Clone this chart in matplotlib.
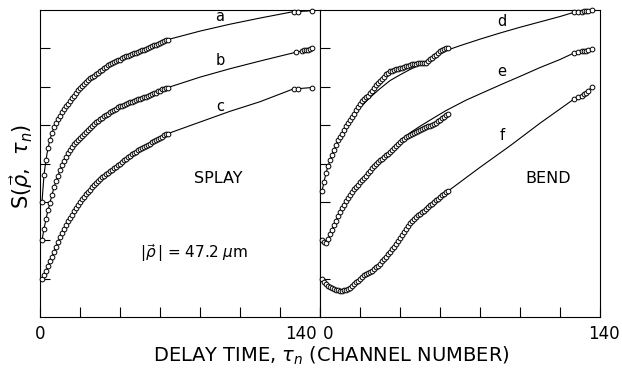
import numpy as np
import matplotlib
matplotlib.use('Agg')
import matplotlib.pyplot as plt

plt.rcParams['font.family'] = ['DejaVu Sans']
plt.rcParams['mathtext.fontset'] = 'dejavusans'

# channel numbers of the measured points
chan = np.arange(1, 65)

# SPLAY
a_y = [3.00, 3.70, 4.10, 4.40, 4.62, 4.80, 4.95, 5.06, 5.16, 5.25, 5.34, 5.42, 5.49, 5.56, 5.63, 5.70,
       5.76, 5.84, 5.92, 5.98, 6.03, 6.08, 6.12, 6.17, 6.22, 6.26, 6.29, 6.32, 6.36, 6.40, 6.44, 6.48,
       6.52, 6.56, 6.59, 6.61, 6.64, 6.67, 6.69, 6.71, 6.74, 6.77, 6.79, 6.81, 6.84, 6.86, 6.88, 6.89,
       6.91, 6.93, 6.95, 6.97, 6.99, 7.01, 7.03, 7.05, 7.08, 7.10, 7.12, 7.14, 7.17, 7.19, 7.22, 7.23]
b_y = [2.00, 2.30, 2.55, 2.78, 2.98, 3.18, 3.38, 3.54, 3.68, 3.82, 3.96, 4.07, 4.17, 4.27, 4.36, 4.43,
       4.50, 4.56, 4.62, 4.67, 4.72, 4.77, 4.82, 4.87, 4.92, 4.97, 5.02, 5.07, 5.11, 5.15, 5.19, 5.23,
       5.26, 5.30, 5.33, 5.37, 5.40, 5.43, 5.46, 5.49, 5.51, 5.53, 5.55, 5.57, 5.59, 5.61, 5.63, 5.65,
       5.67, 5.69, 5.71, 5.72, 5.74, 5.76, 5.78, 5.80, 5.83, 5.85, 5.88, 5.90, 5.93, 5.95, 5.97, 5.98]
c_y = [1.00, 1.10, 1.20, 1.32, 1.45, 1.57, 1.70, 1.83, 1.95, 2.08, 2.20, 2.30, 2.40, 2.49, 2.58, 2.67,
       2.75, 2.84, 2.92, 3.00, 3.07, 3.14, 3.20, 3.26, 3.32, 3.38, 3.44, 3.50, 3.55, 3.60, 3.64, 3.68,
       3.72, 3.76, 3.80, 3.84, 3.88, 3.92, 3.95, 3.99, 4.03, 4.08, 4.12, 4.16, 4.20, 4.24, 4.28, 4.31,
       4.34, 4.37, 4.40, 4.43, 4.46, 4.49, 4.52, 4.55, 4.58, 4.61, 4.64, 4.67, 4.70, 4.73, 4.76, 4.78]
# BEND
d_y = [3.28, 3.52, 3.75, 3.93, 4.08, 4.23, 4.36, 4.48, 4.60, 4.69, 4.78, 4.88, 4.97, 5.05, 5.13, 5.22,
       5.30, 5.39, 5.47, 5.55, 5.62, 5.67, 5.72, 5.77, 5.83, 5.90, 5.97, 6.04, 6.10, 6.15, 6.20, 6.26,
       6.32, 6.36, 6.40, 6.42, 6.44, 6.46, 6.47, 6.49, 6.50, 6.52, 6.53, 6.55, 6.56, 6.58, 6.59, 6.60,
       6.61, 6.62, 6.62, 6.63, 6.63, 6.67, 6.72, 6.76, 6.80, 6.84, 6.88, 6.92, 6.95, 6.98, 7.00, 7.01]
e_y = [2.00, 1.95, 1.93, 2.03, 2.15, 2.28, 2.40, 2.51, 2.62, 2.73, 2.84, 2.93, 3.02, 3.10, 3.18, 3.26,
       3.33, 3.39, 3.45, 3.52, 3.58, 3.63, 3.68, 3.74, 3.80, 3.87, 3.93, 3.98, 4.03, 4.08, 4.12, 4.17,
       4.21, 4.26, 4.30, 4.35, 4.40, 4.45, 4.50, 4.55, 4.60, 4.64, 4.68, 4.71, 4.74, 4.77, 4.79, 4.82,
       4.85, 4.88, 4.90, 4.93, 4.95, 4.97, 4.98, 5.00, 5.02, 5.06, 5.10, 5.14, 5.18, 5.22, 5.26, 5.28]
f_y = [1.00, 0.92, 0.86, 0.82, 0.78, 0.75, 0.72, 0.71, 0.70, 0.69, 0.69, 0.70, 0.71, 0.73, 0.76, 0.80,
       0.85, 0.90, 0.95, 1.00, 1.05, 1.09, 1.12, 1.15, 1.18, 1.21, 1.25, 1.29, 1.34, 1.39, 1.45, 1.51,
       1.57, 1.63, 1.70, 1.76, 1.83, 1.90, 1.98, 2.06, 2.14, 2.22, 2.30, 2.37, 2.44, 2.50, 2.56, 2.61,
       2.65, 2.69, 2.73, 2.77, 2.82, 2.86, 2.91, 2.95, 3.00, 3.04, 3.08, 3.12, 3.17, 3.21, 3.26, 3.28]

# points at the far end of the delay range
a_end_x = [127, 129, 136]
a_end_y = [7.96, 7.96, 7.98]
b_end_x = [128, 131, 132, 133, 134, 135, 136]
b_end_y = [6.90, 6.93, 6.95, 6.96, 6.97, 6.99, 7.00]
c_end_x = [127, 129, 136]
c_end_y = [5.95, 5.95, 5.98]
d_end_x = [127, 129, 131, 132, 133, 134, 136]
d_end_y = [7.94, 7.95, 7.96, 7.97, 7.97, 7.98, 7.99]
e_end_x = [127, 129, 131, 132, 133, 134, 136]
e_end_y = [6.88, 6.90, 6.92, 6.93, 6.94, 6.95, 6.98]
f_end_x = [127, 129, 131, 132, 133, 134, 136]
f_end_y = [5.68, 5.72, 5.76, 5.80, 5.84, 5.89, 6.00]

# fitted curves between the two groups of points
a_fit_x = [64, 80, 95, 110, 127]
a_fit_y = [7.23, 7.45, 7.63, 7.79, 7.96]
b_fit_x = [64, 80, 95, 110, 128]
b_fit_y = [5.98, 6.25, 6.47, 6.67, 6.90]
c_fit_x = [64, 80, 95, 110, 127]
c_fit_y = [4.78, 5.08, 5.36, 5.61, 5.95]
d_fit_x = [13, 15, 20, 25, 30, 35, 40, 45, 50, 55, 60, 64, 70, 80, 90, 100, 110, 120, 127]
d_fit_y = [4.97, 5.10, 5.45, 5.72, 5.95, 6.16, 6.31, 6.45, 6.57, 6.70, 6.85, 6.96, 7.07, 7.24, 7.40,
           7.55, 7.69, 7.83, 7.94]
e_fit_x = [41, 45, 50, 55, 63, 73, 82, 92, 100, 110, 120, 127]
e_fit_y = [4.60, 4.80, 4.97, 5.13, 5.38, 5.65, 5.86, 6.09, 6.27, 6.50, 6.71, 6.88]
f_fit_x = [64, 80, 95, 110, 127]
f_fit_y = [3.28, 3.90, 4.46, 5.05, 5.68]

xticks = np.arange(0, 141, 20)
yticks = np.arange(1, 8)

fig = plt.figure(figsize=(6.22, 3.69), dpi=100)
axL = fig.add_axes([40/622, 1-317/369, 280/622, 307/369])
axR = fig.add_axes([320/622, 1-317/369, 280/622, 307/369])

mk = dict(marker='o', ms=3.4, mfc='white', mec='black', mew=0.7, ls='none', clip_on=False, zorder=3)
ln = dict(color='black', lw=0.8, zorder=2)

def curve(ax, y, fx, fy, ex, ey):
    ax.plot(chan, y, **ln)
    ax.plot(fx, fy, **ln)
    ax.plot(ex, ey, **ln)
    ax.plot(chan, y, **mk)
    ax.plot(ex, ey, **mk)

curve(axL, a_y, a_fit_x, a_fit_y, a_end_x, a_end_y)
curve(axL, b_y, b_fit_x, b_fit_y, b_end_x, b_end_y)
curve(axL, c_y, c_fit_x, c_fit_y, c_end_x, c_end_y)
curve(axR, d_y, d_fit_x, d_fit_y, d_end_x, d_end_y)
curve(axR, e_y, e_fit_x, e_fit_y, e_end_x, e_end_y)
curve(axR, f_y, f_fit_x, f_fit_y, f_end_x, f_end_y)

for ax in (axL, axR):
    ax.set_xlim(0, 140)
    ax.set_ylim(0, 8)
    ax.set_xticks(xticks)
    ax.set_yticks(yticks)
    ax.set_xticklabels([])
    ax.set_yticklabels([])
    ax.tick_params(direction='in', length=7, width=0.8, top=False, right=False)
    for s in ax.spines.values():
        s.set_linewidth(0.8)

# end labels of the delay axis, the two at the shared border pushed apart
for ax, val, dx in [(axL, 0, 0), (axL, 140, -14), (axR, 0, 6), (axR, 140, 3)]:
    ax.annotate(str(val), xy=(val, 0), xycoords=('data', 'axes fraction'),
                xytext=(dx, -6), textcoords='offset points', ha='center', va='top', fontsize=12)

for ax, txt, x, y in [(axL, 'a', 90, 7.82), (axL, 'b', 90, 6.69), (axL, 'c', 90, 5.48),
                      (axR, 'd', 91, 7.69), (axR, 'e', 91, 6.39), (axR, 'f', 91, 4.74)]:
    ax.text(x, y, txt, fontsize=10.5, ha='center', va='center')

axL.text(89, 3.62, 'SPLAY', fontsize=11.5, ha='center', va='center')
axR.text(114, 3.62, 'BEND', fontsize=11.5, ha='center', va='center')
axL.text(77, 1.67, r'$|\vec{\rho}\,|$ = 47.2 $\mu$m', fontsize=11, ha='center', va='center')

fig.text(331/622, 1-356/369, r'DELAY TIME, $\tau_n$ (CHANNEL NUMBER)', fontsize=14,
         ha='center', va='center')
fig.text(22/622, 1-166/369, r'S($\vec{\rho}$,  $\tau_n$)', fontsize=15, rotation=90,
         ha='center', va='center')

fig.savefig('out.png', dpi=100)
